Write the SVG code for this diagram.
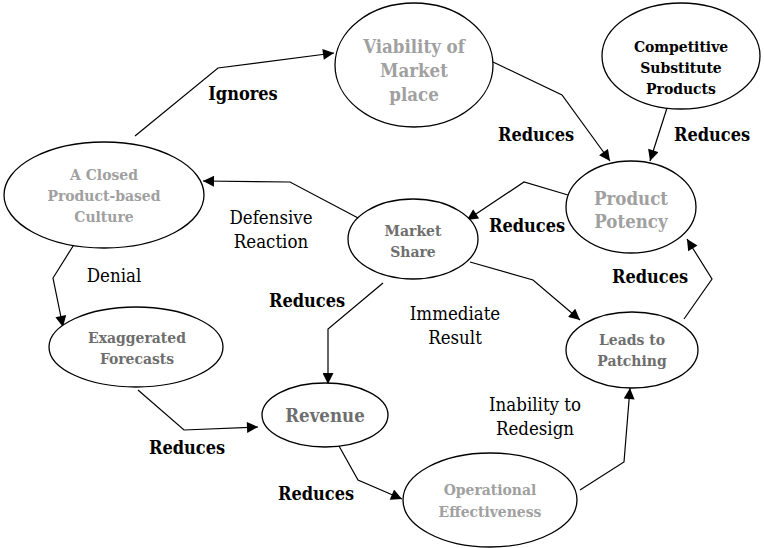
<svg xmlns="http://www.w3.org/2000/svg" width="764" height="548" viewBox="0 0 764 548">
<style>
.n ellipse{fill:#fff;stroke:#000;stroke-width:1.3}
text{font-family:"DejaVu Serif Condensed","DejaVu Serif",serif;font-stretch:condensed}
.n text{font-weight:bold;text-anchor:middle;font-size:15.5px}
.lg{fill:#a0a0a0}
.dg{fill:#6e6e6e}
.bk{fill:#000}
.c{fill:none;stroke:#000;stroke-width:1.2}
.lb{font-size:18.5px;fill:#000;text-anchor:middle}
.bl{font-weight:bold;font-size:18px}
</style>
<defs>
<marker id="a" viewBox="0 0 10 10" refX="10" refY="5" markerWidth="12" markerHeight="11" markerUnits="userSpaceOnUse" orient="auto">
<path d="M0,0 L10,5 L0,10 z" fill="#000"/>
</marker>
</defs>
<g id="connectors">
<polyline class="c" points="135,136 218,68 334,53" marker-end="url(#a)"/>
<polyline class="c" points="493,62 562,95 610,161" marker-end="url(#a)"/>
<polyline class="c" points="667,108 650,161" marker-end="url(#a)"/>
<polyline class="c" points="568,195 524,182 467,220" marker-end="url(#a)"/>
<polyline class="c" points="360,219 290,182 203,181" marker-end="url(#a)"/>
<polyline class="c" points="80,235 53,278 63,327" marker-end="url(#a)"/>
<polyline class="c" points="383,283 328,329 328,384" marker-end="url(#a)"/>
<polyline class="c" points="470,262 533,280 580,320" marker-end="url(#a)"/>
<polyline class="c" points="138,390 184,430 258,427" marker-end="url(#a)"/>
<polyline class="c" points="339,446 358,480 402,499" marker-end="url(#a)"/>
<polyline class="c" points="580,490 624,462 630,388" marker-end="url(#a)"/>
<polyline class="c" points="684,319 712,279 687,239" marker-end="url(#a)"/>
<text class="lb bl" x="243" y="100">Ignores</text>
<text class="lb bl" x="536" y="141">Reduces</text>
<text class="lb bl" x="712" y="141">Reduces</text>
<text class="lb bl" x="527" y="232">Reduces</text>
<text class="lb" x="271" y="224">Defensive</text>
<text class="lb" x="271" y="248">Reaction</text>
<text class="lb" x="114" y="282">Denial</text>
<text class="lb bl" x="307" y="307">Reduces</text>
<text class="lb" x="455" y="320">Immediate</text>
<text class="lb" x="455" y="344">Result</text>
<text class="lb bl" x="650" y="283">Reduces</text>
<text class="lb" x="535" y="411">Inability to</text>
<text class="lb" x="535" y="435">Redesign</text>
<text class="lb bl" x="187" y="454">Reduces</text>
<text class="lb bl" x="316" y="500">Reduces</text>
</g>
<g id="culture" class="n">
<ellipse cx="104" cy="195" rx="100" ry="53"/>
<text class="lg" x="104" y="180">A Closed</text>
<text class="lg" x="104" y="201">Product-based</text>
<text class="lg" x="104" y="222">Culture</text>
</g>
<g id="viability" class="n">
<ellipse cx="414" cy="65" rx="79" ry="62"/>
<text class="lg" style="font-size:18.5px" x="414" y="53">Viability of</text>
<text class="lg" style="font-size:18.5px" x="414" y="77">Market</text>
<text class="lg" style="font-size:18.5px" x="414" y="101">place</text>
</g>
<g id="competitive" class="n">
<ellipse cx="681" cy="56" rx="79" ry="53"/>
<text class="bk" x="681" y="52">Competitive</text>
<text class="bk" x="681" y="73">Substitute</text>
<text class="bk" x="681" y="94">Products</text>
</g>
<g id="potency" class="n">
<ellipse cx="631" cy="207" rx="65" ry="46"/>
<text class="lg" style="font-size:18.5px" x="631" y="205">Product</text>
<text class="lg" style="font-size:18.5px" x="631" y="228">Potency</text>
</g>
<g id="share" class="n">
<ellipse cx="413" cy="239" rx="65" ry="40"/>
<text class="dg" x="413" y="236">Market</text>
<text class="dg" x="413" y="257">Share</text>
</g>
<g id="forecasts" class="n">
<ellipse cx="136" cy="347" rx="87" ry="40"/>
<text class="dg" x="137" y="343">Exaggerated</text>
<text class="dg" x="137" y="364">Forecasts</text>
</g>
<g id="revenue" class="n">
<ellipse cx="325" cy="415" rx="63" ry="32"/>
<text class="dg" style="font-size:18.5px" x="325" y="422">Revenue</text>
</g>
<g id="patching" class="n">
<ellipse cx="632" cy="350" rx="66" ry="38"/>
<text class="dg" x="632" y="345">Leads to</text>
<text class="dg" x="632" y="366">Patching</text>
</g>
<g id="operational" class="n">
<ellipse cx="490" cy="500" rx="87" ry="47"/>
<text class="lg" x="490" y="495">Operational</text>
<text class="lg" x="490" y="517">Effectiveness</text>
</g>
</svg>
